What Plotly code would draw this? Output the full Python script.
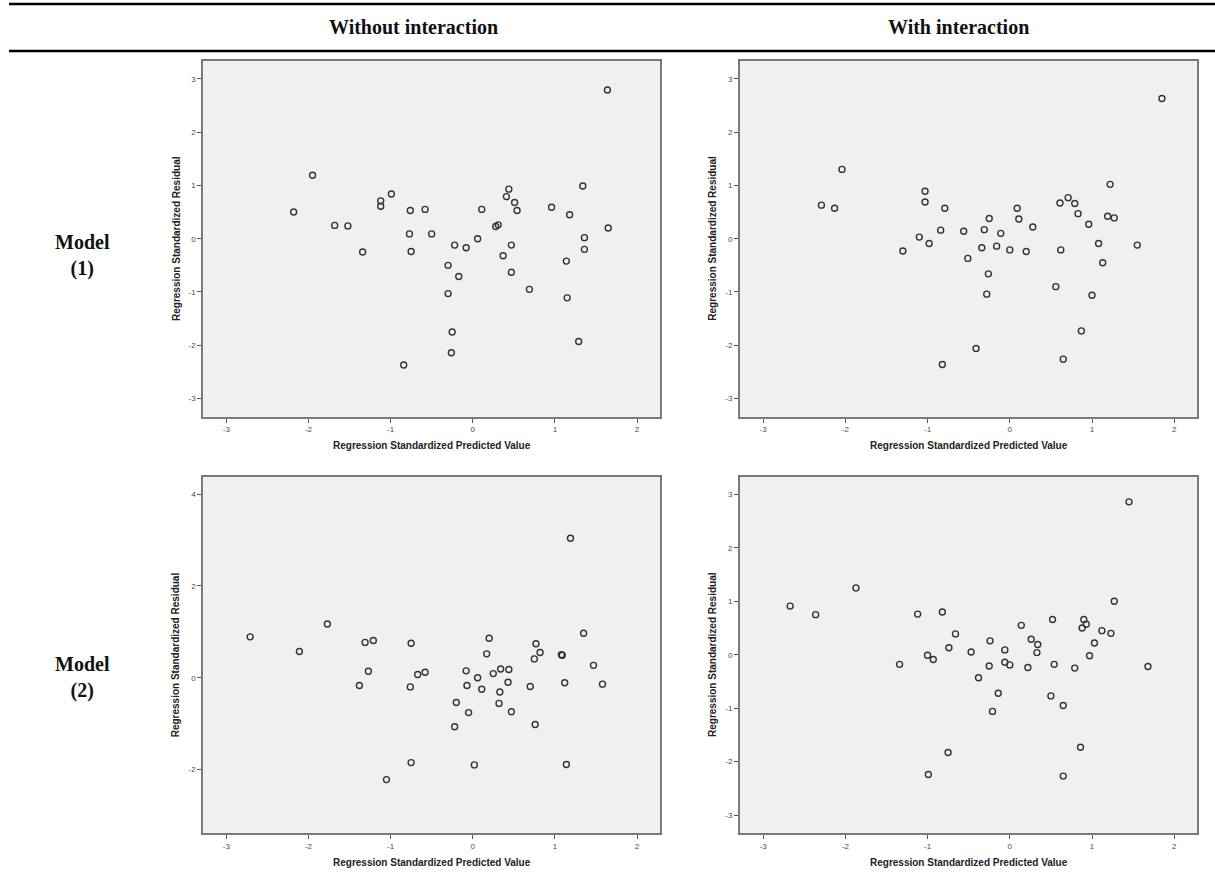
import plotly.graph_objects as go

# ---------------- data ----------------
# Model (1), without interaction
m1_wo_pred = [-2.18, -1.95, -1.68, -1.52, -1.34, -1.12, -1.12, -0.99, -0.76, -0.77, -0.75,
              -0.84, -0.58, -0.50, -0.30, -0.30, -0.25, -0.26, -0.22, -0.17, -0.08, 0.06,
              0.11, 0.28, 0.31, 0.37, 0.41, 0.44, 0.47, 0.47, 0.51, 0.54, 0.69, 0.96,
              1.18, 1.14, 1.15, 1.29, 1.34, 1.36, 1.36, 1.64, 1.65]
m1_wo_resid = [0.50, 1.19, 0.25, 0.24, -0.25, 0.71, 0.61, 0.84, 0.53, 0.09, -0.24,
               -2.37, 0.55, 0.09, -0.50, -1.03, -1.75, -2.14, -0.12, -0.71, -0.17, 0.00,
               0.55, 0.23, 0.26, -0.32, 0.79, 0.93, -0.12, -0.63, 0.68, 0.53, -0.95, 0.59,
               0.45, -0.42, -1.11, -1.93, 0.99, 0.02, -0.20, 2.79, 0.20]

# Model (1), with interaction
m1_wi_pred = [-2.29, -2.13, -2.04, -1.30, -1.10, -1.03, -1.03, -0.98, -0.84, -0.79, -0.82,
              -0.56, -0.51, -0.41, -0.34, -0.31, -0.25, -0.26, -0.28, -0.16, -0.11, 0.00,
              0.09, 0.11, 0.20, 0.28, 0.56, 0.61, 0.62, 0.65, 0.71, 0.79, 0.83, 0.87,
              0.96, 1.00, 1.08, 1.13, 1.19, 1.22, 1.27, 1.55, 1.85]
m1_wi_resid = [0.63, 0.57, 1.30, -0.23, 0.03, 0.89, 0.69, -0.09, 0.16, 0.57, -2.36,
               0.14, -0.37, -2.06, -0.17, 0.17, 0.38, -0.66, -1.04, -0.14, 0.10, -0.21,
               0.57, 0.37, -0.24, 0.22, -0.90, 0.67, -0.21, -2.26, 0.77, 0.66, 0.47, -1.73,
               0.27, -1.06, -0.09, -0.45, 0.42, 1.02, 0.39, -0.12, 2.63]

# Model (2), without interaction
m2_wo_pred = [-2.71, -2.11, -1.77, -1.38, -1.31, -1.27, -1.21, -1.05, -0.76, -0.75, -0.75,
              -0.67, -0.58, -0.22, -0.20, -0.08, -0.07, -0.05, 0.02, 0.06, 0.11, 0.17,
              0.20, 0.25, 0.33, 0.32, 0.34, 0.43, 0.44, 0.47, 0.70, 0.75, 0.76, 0.77,
              0.82, 1.08, 1.09, 1.12, 1.14, 1.19, 1.35, 1.47, 1.58]
m2_wo_resid = [0.89, 0.57, 1.17, -0.17, 0.77, 0.14, 0.81, -2.22, -0.20, 0.75, -1.85,
               0.07, 0.12, -1.07, -0.54, 0.15, -0.17, -0.76, -1.90, 0.00, -0.25, 0.52,
               0.86, 0.09, -0.31, -0.56, 0.19, -0.10, 0.18, -0.74, -0.19, 0.41, -1.02, 0.74,
               0.55, 0.50, 0.49, -0.11, -1.89, 3.04, 0.97, 0.27, -0.14]

# Model (2), with interaction
m2_wi_pred = [-2.67, -2.36, -1.87, -1.34, -1.12, -1.00, -0.93, -0.99, -0.82, -0.74, -0.75,
              -0.66, -0.47, -0.38, -0.25, -0.24, -0.21, -0.14, -0.06, -0.06, 0.00, 0.14,
              0.22, 0.26, 0.34, 0.33, 0.50, 0.52, 0.54, 0.65, 0.65, 0.79, 0.86, 0.88,
              0.90, 0.93, 0.97, 1.03, 1.12, 1.23, 1.27, 1.45, 1.68]
m2_wi_resid = [0.91, 0.75, 1.25, -0.18, 0.76, -0.01, -0.09, -2.24, 0.80, 0.13, -1.83,
               0.39, 0.05, -0.43, -0.21, 0.26, -1.06, -0.72, 0.09, -0.14, -0.19, 0.55,
               -0.24, 0.29, 0.19, 0.04, -0.77, 0.66, -0.18, -0.95, -2.27, -0.25, -1.73, 0.50,
               0.66, 0.57, -0.02, 0.22, 0.45, 0.40, 1.00, 2.86, -0.22]

x_ticks = [-3, -2, -1, 0, 1, 2]
x_tick_labels = ["-3", "-2", "-1", "0", "1", "2"]
y_ticks_std = [-3, -2, -1, 0, 1, 2, 3]
y_tick_labels_std = ["-3", "-2", "-1", "0", "1", "2", "3"]
y_ticks_m2wo = [-2, 0, 2, 4]
y_tick_labels_m2wo = ["-2", "0", "2", "4"]

col_headers = ["Without interaction", "With interaction"]
row_headers = ["Model<br>(1)", "Model<br>(2)"]
x_title = "Regression Standardized Predicted Value"
y_title = "Regression Standardized Residual"

# ---------------- layout helpers ----------------
W, H = 1215, 882


def px_x(p):
    return p / W


def px_y(p):
    return 1 - p / H


col_dom = [[px_x(203.3), px_x(660.0)], [px_x(740.0), px_x(1197.3)]]
row_dom = [[px_y(416.7), px_y(60.7)], [px_y(833.3), px_y(476.7)]]

panels = [
    (m1_wo_pred, m1_wo_resid, 0, 0, [-3.34, 3.34], y_ticks_std, y_tick_labels_std),
    (m1_wi_pred, m1_wi_resid, 0, 1, [-3.34, 3.34], y_ticks_std, y_tick_labels_std),
    (m2_wo_pred, m2_wo_resid, 1, 0, [-3.39, 4.38], y_ticks_m2wo, y_tick_labels_m2wo),
    (m2_wi_pred, m2_wi_resid, 1, 1, [-3.34, 3.33], y_ticks_std, y_tick_labels_std),
]

fig = go.Figure()
layout = dict(
    width=W, height=H,
    margin=dict(l=0, r=0, t=0, b=0),
    paper_bgcolor="white",
    plot_bgcolor="#f0f0f0",
    showlegend=False,
)

tick_font = dict(family="Liberation Sans, Arial, sans-serif", size=8, color="#4a4a4a")
annotations = []

for i, (xs, ys, r, c, yr, yt, ytl) in enumerate(panels):
    n = i + 1
    xa = "x" if n == 1 else f"x{n}"
    ya = "y" if n == 1 else f"y{n}"
    fig.add_trace(go.Scatter(
        x=xs, y=ys, mode="markers", xaxis=xa, yaxis=ya,
        marker=dict(symbol="circle-open", size=6, color="#333333",
                    line=dict(width=1.4, color="#333333")),
        hoverinfo="x+y",
    ))
    layout["xaxis" if n == 1 else f"xaxis{n}"] = dict(
        domain=col_dom[c], anchor=ya, range=[-3.28, 2.28],
        tickvals=x_ticks, ticktext=x_tick_labels, tickfont=tick_font,
        ticks="outside", ticklen=4, tickcolor="#555555", tickwidth=1,
        showgrid=False, zeroline=False,
        showline=True, mirror=True, linecolor="#7a7a7a", linewidth=2,
    )
    layout["yaxis" if n == 1 else f"yaxis{n}"] = dict(
        domain=row_dom[r], anchor=xa, range=yr,
        tickvals=yt, ticktext=ytl, tickfont=tick_font,
        ticks="outside", ticklen=4, tickcolor="#555555", tickwidth=1,
        showgrid=False, zeroline=False,
        showline=True, mirror=True, linecolor="#7a7a7a", linewidth=2,
    )
    cx = (col_dom[c][0] + col_dom[c][1]) / 2
    cy = (row_dom[r][0] + row_dom[r][1]) / 2
    bottom_px = 416.7 if r == 0 else 833.3
    annotations.append(dict(
        text=f"<b>{x_title}</b>", x=cx, y=px_y(bottom_px + 29), xref="paper", yref="paper",
        showarrow=False, xanchor="center", yanchor="middle",
        font=dict(family="Liberation Sans, Arial, sans-serif", size=10, color="#222222"),
    ))
    left_px = 203.3 if c == 0 else 740.0
    annotations.append(dict(
        text=f"<b>{y_title}</b>", x=px_x(left_px - 27), y=cy, xref="paper", yref="paper",
        showarrow=False, xanchor="center", yanchor="middle", textangle=-90,
        font=dict(family="Liberation Sans, Arial, sans-serif", size=10, color="#222222"),
    ))

serif = "Liberation Serif, Times New Roman, serif"
for txt, xpx in zip(col_headers, [413, 958]):
    annotations.append(dict(
        text=f"<b>{txt}</b>", x=px_x(xpx), y=px_y(27), xref="paper", yref="paper",
        showarrow=False, xanchor="center", yanchor="middle",
        font=dict(family=serif, size=20, color="#111111"),
    ))
for txt, ypx in zip(row_headers, [255, 677]):
    annotations.append(dict(
        text=f"<b>{txt}</b>", x=px_x(82), y=px_y(ypx), xref="paper", yref="paper",
        showarrow=False, xanchor="center", yanchor="middle", align="center",
        font=dict(family=serif, size=20, color="#111111"),
    ))

layout["annotations"] = annotations
layout["shapes"] = [
    dict(type="line", xref="paper", yref="paper", x0=px_x(9), x1=1, y0=px_y(4), y1=px_y(4),
         line=dict(color="black", width=2.5)),
    dict(type="line", xref="paper", yref="paper", x0=px_x(9), x1=1, y0=px_y(51), y1=px_y(51),
         line=dict(color="black", width=2.5)),
]

fig.update_layout(**layout)
fig.write_html("out.html")
